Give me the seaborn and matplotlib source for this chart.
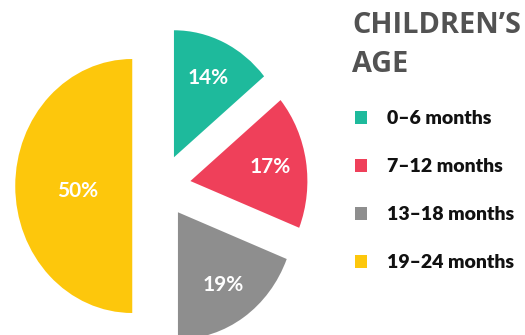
import matplotlib
matplotlib.use("Agg")
import matplotlib.pyplot as plt
import seaborn as sns
import numpy as np

# Age groups and their share of children (%)
age_groups = ["0–6 months", "7–12 months", "13–18 months", "19–24 months"]
shares = [14, 17, 19, 50]
slice_colors = ["#1EBA9C", "#EF405A", "#8E8E8E", "#FDC70C"]

sns.set_theme(style="white")
plt.rcParams["font.family"] = ["Lato", "DejaVu Sans"]

W, H = 525, 335
fig = plt.figure(figsize=(W / 100, H / 100), dpi=100)

# Pie axes: centre and scale in pixels (slightly narrower horizontally)
cx, cy = 161.5, 186.0
rx, ry = 117.0, 127.0
lim = 1.3
ax = fig.add_axes([
    (cx - lim * rx) / W,
    (H - cy - lim * ry) / H,
    2 * lim * rx / W,
    2 * lim * ry / H,
])

palette = sns.color_palette(slice_colors)
wedges, texts, autotexts = ax.pie(
    shares,
    colors=palette,
    startangle=90,
    counterclock=False,
    explode=[0.25] * len(shares),
    autopct=lambda p: f"{p:.0f}%",
    pctdistance=0.69,
    wedgeprops=dict(linewidth=0, antialiased=True),
    textprops=dict(color="white", fontsize=15, fontweight="bold",
                   family=["Lato", "DejaVu Sans"]),
)
ax.set_aspect("auto")
ax.set_xlim(-lim, lim)
ax.set_ylim(-lim, lim)
ax.axis("off")

# The half-pie label sits closer to its straight edge
big = autotexts[3]
bx, by = big.get_position()
ang = np.arctan2(by, bx + 0.25)
big.set_position((-0.25 + 0.47 * np.cos(ang), 0.47 * np.sin(ang) - 0.04))

# Title
title_kw = dict(fontsize=20.8, fontweight="bold", color="#525252",
                family=["Open Sans", "DejaVu Sans"], va="baseline", ha="left")
fig.text(352 / W, (H - 33) / H, "CHILDREN’S", **title_kw)
fig.text(352 / W, (H - 72) / H, "AGE", **title_kw)

# Legend
leg = fig.legend(
    wedges, age_groups,
    loc="upper left",
    bbox_to_anchor=(355 / W, (H - 110) / H),
    frameon=False,
    prop=dict(family=["Lato", "DejaVu Sans"], weight="heavy", size=14),
    handlelength=0.62,
    handleheight=0.68,
    handletextpad=1.05,
    labelspacing=1.6,
    borderpad=0,
    borderaxespad=0,
)
for t in leg.get_texts():
    t.set_color("#111111")

fig.savefig("out.png", dpi=100)
